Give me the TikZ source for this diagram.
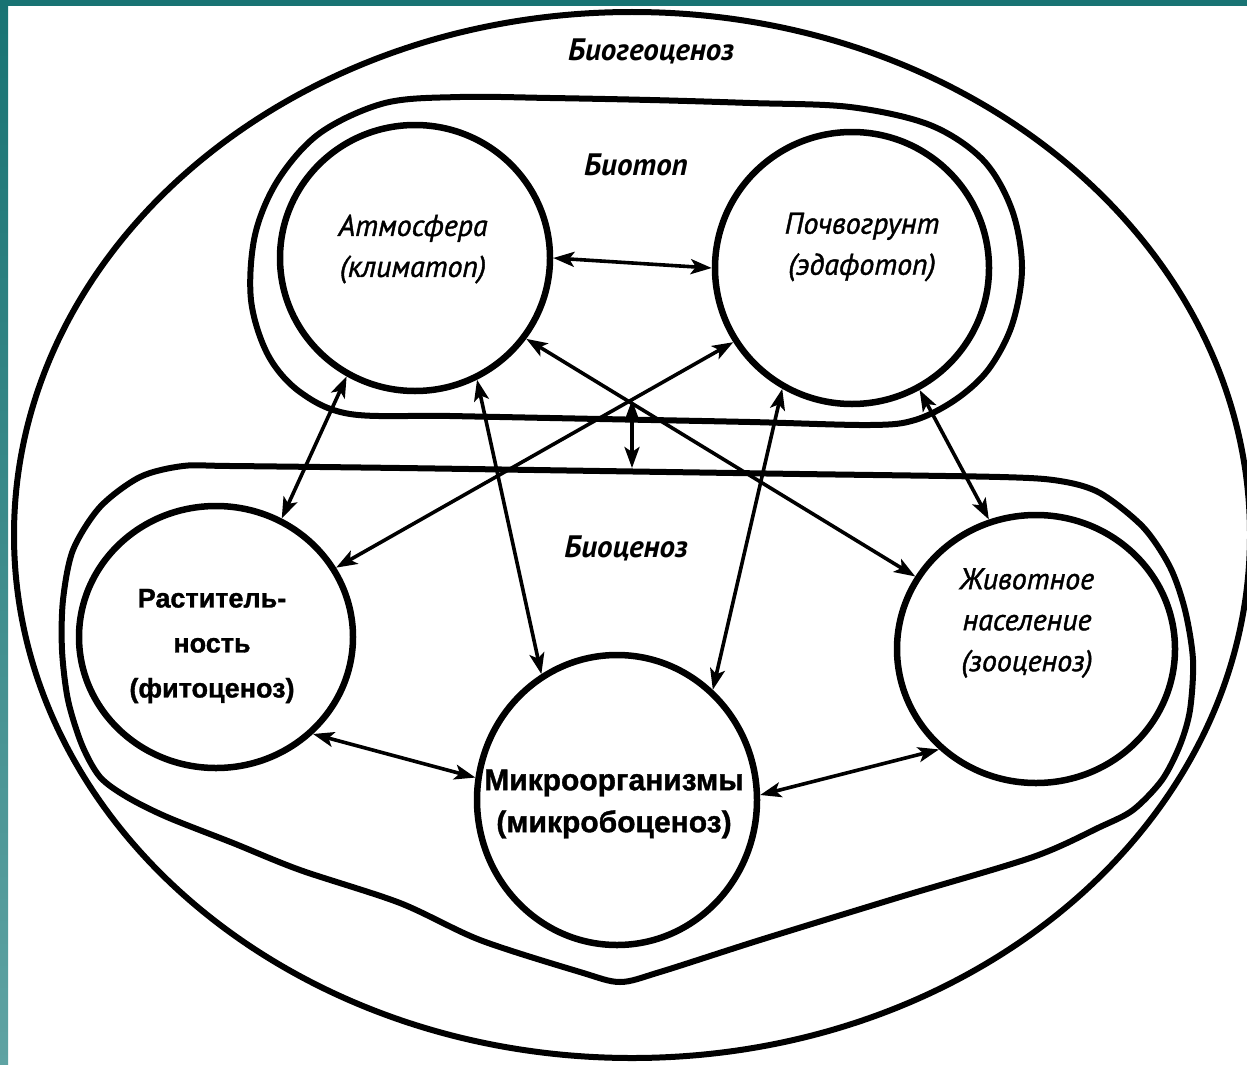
\documentclass[tikz,border=0pt]{standalone}
\usepackage{fontspec}
\setmainfont{Liberation Sans}[FakeBold=1.2]
\newfontfamily\ptsans{PT Sans}
\newfontfamily\ptsanslab{PT Sans}[FakeBold=1.3]
\usetikzlibrary{arrows.meta,shapes.geometric}
\definecolor{tealA}{HTML}{187373}
\definecolor{tealB}{HTML}{5FA3A3}
\begin{document}
\begin{tikzpicture}[x=1pt,y=-1pt,
  cell/.style={ellipse, draw, line width=6.5pt, inner sep=0pt},
  zone/.style={line width=6pt},
  tip/.tip={Stealth[length=21pt,width=15pt,inset=5pt]},
  link/.style={line width=3.6pt, tip-tip},
  ttl/.style={font=\ptsans\bfseries\itshape\fontsize{31}{31}\selectfont, inner sep=0pt},
  itl/.style={font=\ptsanslab\itshape\fontsize{30}{41}\selectfont, align=center, inner sep=0pt},
  upr/.style={font=\bfseries\fontsize{27}{45}\selectfont, align=center, inner sep=0pt},
]
\useasboundingbox (0,0) rectangle (1247,1065);
\fill[white] (0,0) rectangle (1247,1065);
\fill[tealA] (0,0) rectangle (1247,6);
\shade[top color=tealA, bottom color=tealB] (0,0) rectangle (8,1065);

% outer Biogeocenosis ellipse
\begin{scope}
\clip (8,6) rectangle (1247,1065);
\draw[zone] (632,535) ellipse [x radius=618, y radius=523];
\end{scope}

% Biotope contour
\draw[zone] plot[smooth cycle, tension=0.55] coordinates {
 (350,414) (300,392) (268,355) (251,300) (255,235) (278,180) (320,133)
 (385,103) (460,97) (550,98) (650,100) (750,103) (850,107) (930,125)
 (983,160) (1012,210) (1022,268) (1012,325) (988,370) (955,400)
 (915,420) (870,425) (750,422) (600,419) (450,416)};

% Biocenosis contour
\draw[zone] plot[smooth cycle, tension=0.5] coordinates {
 (230,466) (400,468) (600,471) (800,474) (1000,477) (1060,481) (1100,493)
 (1143,527) (1170,567) (1185,610) (1193,660) (1190,710) (1180,745)
 (1162,780) (1133,810) (1100,827) (1033,857) (900,897) (760,940)
 (660,972) (620,982) (580,972) (480,940) (400,903) (300,870) (233,843)
 (167,817) (127,797) (100,777) (82,745) (68,700) (62,650) (63,600)
 (73,550) (100,507) (140,477) (183,466)};

% component cells
\node[cell, minimum width=270pt, minimum height=266pt] (A) at (415,258) {};
\node[cell, minimum width=274pt, minimum height=272pt] (P) at (852,268) {};
\node[cell, minimum width=274pt, minimum height=262pt] (R) at (216,637) {};
\node[cell, minimum width=278pt, minimum height=268pt] (Z) at (1036,649) {};
\node[cell, minimum width=280pt, minimum height=290pt] (M) at (617,800) {};

% labels
\node[ttl] (tBGC) at (651,51) {Биогеоценоз};
\node[ttl] (tBT) at (636,165) {Биотоп};
\node[ttl] (tBC) at (626,548) {Биоценоз};
\node[itl] (lA) at (413,249) {Атмосфера\\(климатоп)};
\node[itl] (lP) at (862,247) {Почвогрунт\\(эдафотоп)};
\node[upr] (lR) at (212,646) {Раститель-\\ность\\(фитоценоз)};
\node[itl] (lZ) at (1027,623) {Животное\\население\\(зооценоз)};
\node[upr, font=\bfseries\fontsize{30}{42}\selectfont] (lM) at (614,804) {Микроорганизмы\\(микробоценоз)};

% links
\draw[link] (A.0) -- (P.180);
\draw[link] (A.240) -- (R.61);
\draw[link] (A.297) -- (M.121);
\draw[link] (A.324) -- (Z.149);
\draw[link] (P.212) -- (R.30);
\draw[link] (P.240) -- (M.49);
\draw[link] (P.299) -- (Z.110);
\draw[link] (R.315) -- (M.171);
\draw[link] (M.2) -- (Z.226);
\coordinate (vTop) at (632,400);
\coordinate (vBot) at (632,468);
\draw[link] (vTop) -- (vBot);
\end{tikzpicture}
\end{document}
